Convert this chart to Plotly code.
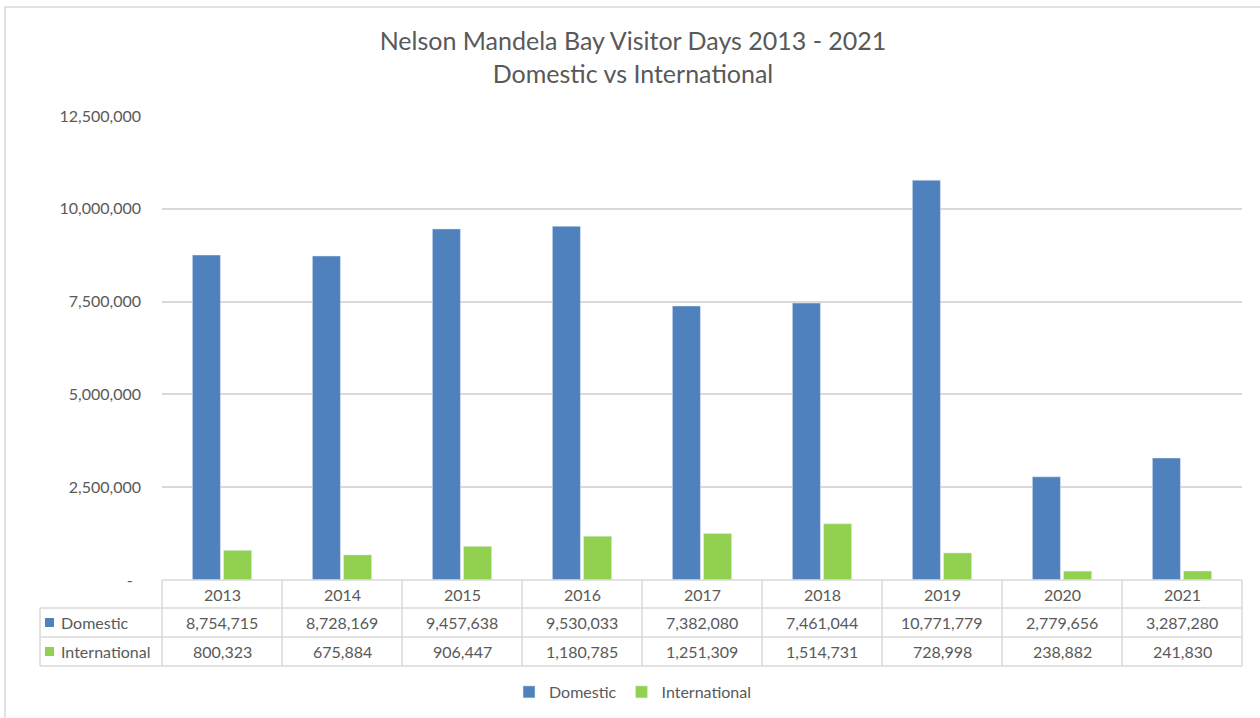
import plotly.graph_objects as go

years = ["2013", "2014", "2015", "2016", "2017", "2018", "2019", "2020", "2021"]
domestic = [8754715, 8728169, 9457638, 9530033, 7382080, 7461044, 10771779, 2779656, 3287280]
international = [800323, 675884, 906447, 1180785, 1251309, 1514731, 728998, 238882, 241830]
series_names = ["Domestic", "International"]
ytick_vals = [0, 2500000, 5000000, 7500000, 10000000, 12500000]
ytick_text = ["-\u00a0\u00a0", "2,500,000", "5,000,000", "7,500,000", "10,000,000", "12,500,000"]

BLUE = "#4F81BD"
GREEN = "#92D050"
TXT = "#595959"
GRID = "#D9D9D9"
FONT = "Lato"

W, H = 1260, 718
L, R, T, B = 162, 18, 116, 138
PW, PH = W - L - R, H - T - B


def px_x(x):  # pixel -> x domain
    return (x - L) / PW


def px_y(y):  # pixel -> paper y
    return (H - B - y) / PH


fig = go.Figure()
fig.add_trace(go.Bar(x=years, y=domestic, name=series_names[0], marker_color=BLUE))
fig.add_trace(go.Bar(x=years, y=international, name=series_names[1], marker_color=GREEN))

shapes = []
annotations = []

# outer chart border
shapes.append(dict(type="rect", xref="paper", yref="paper",
                   x0=(5 - L) / PW, x1=(1300 - L) / PW, y0=px_y(760), y1=px_y(7),
                   line=dict(color="#D9D9D9", width=1.5), fillcolor="rgba(0,0,0,0)", layer="below"))

# data table
row_y = [580, 608, 637, 666]
n = len(years)
shapes.append(dict(type="line", xref="x domain", yref="paper", x0=0, x1=1,
                   y0=px_y(580), y1=px_y(580), line=dict(color=GRID, width=1.5)))
for yy in row_y[1:]:
    shapes.append(dict(type="line", xref="x domain", yref="paper", x0=px_x(40), x1=1,
                       y0=px_y(yy), y1=px_y(yy), line=dict(color=GRID, width=1.5)))
shapes.append(dict(type="line", xref="x domain", yref="paper", x0=px_x(40), x1=px_x(40),
                   y0=px_y(608), y1=px_y(666), line=dict(color=GRID, width=1.5)))
for i in range(n + 1):
    xd = i / n
    shapes.append(dict(type="line", xref="x domain", yref="paper", x0=xd, x1=xd,
                       y0=px_y(580), y1=px_y(666), line=dict(color=GRID, width=1.5)))

cell_font = dict(family=FONT, size=16, color=TXT)
for i, yr in enumerate(years):
    xc = (i + 0.5) / n
    for text, yc in [(yr, 594), (f"{domestic[i]:,}", 622.5), (f"{international[i]:,}", 651.5)]:
        annotations.append(dict(x=xc, xref="x domain", yref="paper", y=px_y(yc), text=text,
                                xanchor="center", yanchor="middle", showarrow=False, font=cell_font))

for name, col, yc in [(series_names[0], BLUE, 622.5), (series_names[1], GREEN, 651.5)]:
    shapes.append(dict(type="rect", xref="x domain", yref="paper",
                       x0=px_x(45), x1=px_x(54), y0=px_y(yc + 4.5), y1=px_y(yc - 4.5),
                       fillcolor=col, line=dict(width=0)))
    annotations.append(dict(x=px_x(59), xref="x domain", yref="paper", y=px_y(yc), text=name,
                            xanchor="left", yanchor="middle", showarrow=False, font=cell_font))

fig.update_layout(
    width=W, height=H,
    margin=dict(l=L, r=R, t=T, b=B),
    paper_bgcolor="white", plot_bgcolor="white",
    title=dict(text="Nelson Mandela Bay Visitor Days 2013 - 2021<br>Domestic vs International",
               x=633 / W, xanchor="center", y=1 - 50 / H, yanchor="middle",
               font=dict(family=FONT, size=25, color=TXT)),
    barmode="group", bargap=0.48, bargroupgap=0.1,
    xaxis=dict(type="category", range=[-0.5, n - 0.5], showticklabels=False,
               showline=False, showgrid=False, ticks="", zeroline=False),
    yaxis=dict(range=[0, 12500000], tickvals=ytick_vals, ticktext=ytick_text,
               showgrid=True, gridcolor=GRID, gridwidth=1.5, zeroline=False, showline=False,
               tickfont=dict(family=FONT, size=16, color=TXT), ticks="", ticklen=0,
               ticklabelstandoff=20),
    legend=dict(orientation="h", xref="container", x=633 / W, xanchor="center",
                yref="container", y=(H - 692) / H, yanchor="middle",
                font=dict(family=FONT, size=16, color=TXT), itemwidth=30,
                traceorder="normal"),
    shapes=shapes, annotations=annotations,
    showlegend=True,
)

fig.write_html("out.html")
